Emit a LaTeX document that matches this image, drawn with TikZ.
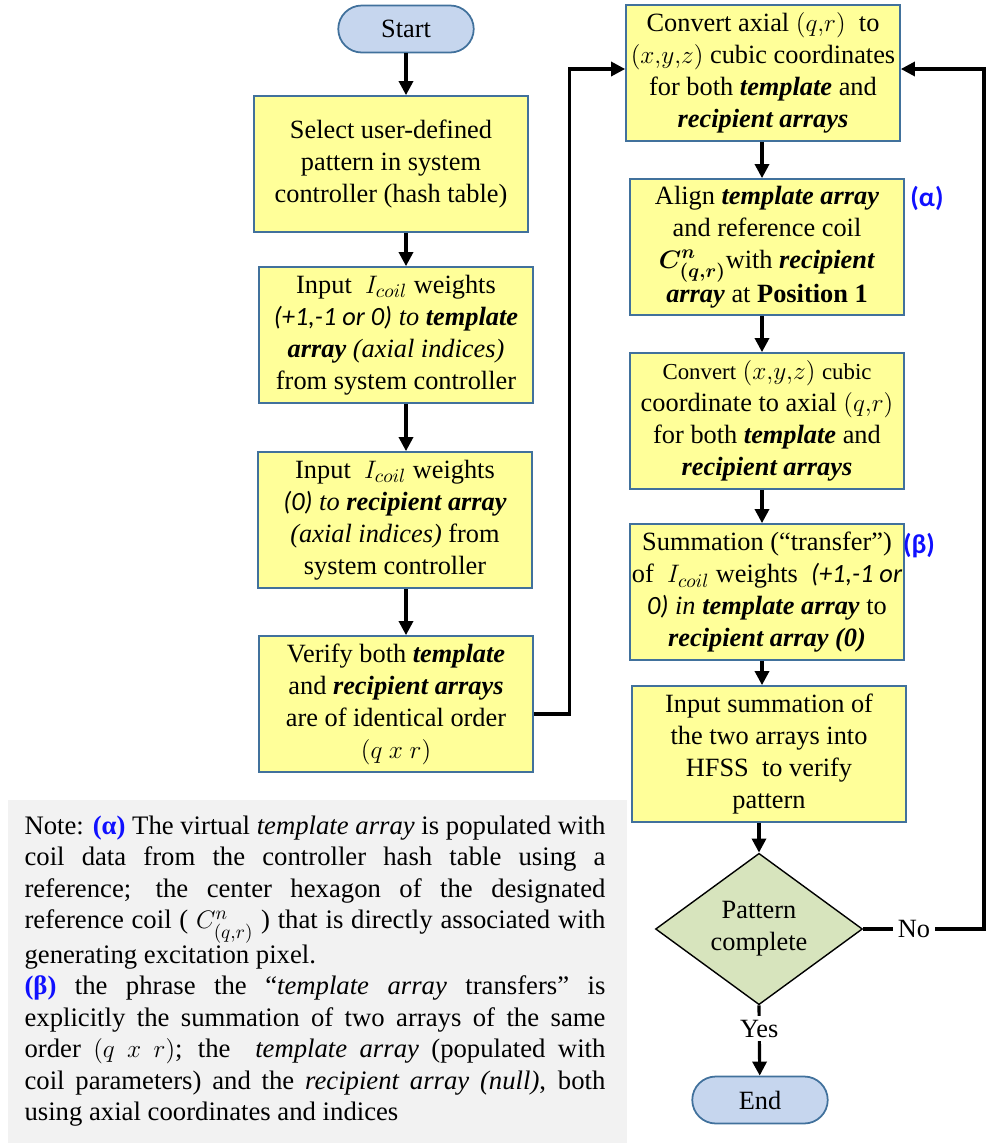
\documentclass[tikz,border=0pt]{standalone}
\usepackage{amsmath, amssymb, bm}
\usepackage{fontspec}
\setmainfont{Liberation Serif}
\newfontfamily\calib{Carlito}
\usetikzlibrary{shapes.geometric, shapes.misc, arrows.meta}
\definecolor{boxfill}{HTML}{FFFF99}
\definecolor{boxline}{HTML}{41719C}
\definecolor{pillfill}{HTML}{C6D6EE}
\definecolor{decfill}{HTML}{D7E4BD}
\definecolor{notefill}{HTML}{F2F2F2}
\definecolor{tagblue}{HTML}{1010FF}
\newcommand{\bi}[1]{\textbf{\textit{#1}}}
\newcommand{\ci}[1]{{\calib\itshape #1}}

\begin{document}
\begin{tikzpicture}[x=0.02cm, y=-0.02cm, >={Triangle[length=8pt,width=8pt]},
  font=\fontsize{15}{18.2}\selectfont,
  stepbox/.style={rectangle, draw=boxline, line width=1pt, fill=boxfill, minimum width=5.48cm, minimum height=2.72cm, align=center, inner sep=1pt},
  pill/.style={rounded rectangle, draw=boxline, line width=1pt, fill=pillfill, minimum width=2.78cm, minimum height=0.94cm, inner sep=1pt},
  arr/.style={->, line width=1.8pt},
  tag/.style={text=tagblue, font=\fontsize{15.5}{18}\selectfont\calib\bfseries}]
\useasboundingbox (0,0) rectangle (986,1143);

% note box
\fill[notefill] (8,800) rectangle (627,1143);
\node (note) at (315,971) [text width=11.62cm, align=justify, inner sep=0pt, font=\fontsize{15.2}{17.9}\selectfont] {\hyphenpenalty=10000 \exhyphenpenalty=10000 Note: {\color{tagblue}\textbf{(α)}} The virtual \textit{template array} is populated with\linebreak
coil data from the controller hash table using a\linebreak
reference; the center hexagon of the designated\linebreak
reference coil ( $C^{n}_{(q,r)}$ ) that is directly associated with\linebreak
generating excitation pixel.\\
{\color{tagblue}\textbf{(β)}} the phrase the ``\textit{template array} transfers'' is\linebreak
explicitly the summation of two arrays of the same\linebreak
order $(q\ x\ r)$; the \ \textit{template array} (populated with\linebreak
coil parameters) and the \textit{recipient array (null)}, both\linebreak
using axial coordinates and indices};

% left column
\node (s) at (406,29) [pill] {Start};
\node (b1) at (391,164) [stepbox] {Select user-defined\\ pattern in system\\ controller (hash table)};
\node (b2) at (396,335) [stepbox] {Input \ $I_{coil}$ weights\\ \ci{(+1,-1 or 0)} \textit{to} \bi{template}\\ \bi{array} \textit{(axial indices)}\\ from system controller};
\node (b3) at (395,520) [stepbox] {Input \ $I_{coil}$ weights\\ \ci{(0)} \textit{to} \bi{recipient array}\\ \textit{(axial indices)} from\\ system controller};
\node (b4) at (396,704) [stepbox] {Verify both \bi{template}\\ and \bi{recipient arrays}\\ are of identical order\\ $(q\ x\ r)$};
\coordinate (lc) at (406,0);

% right column
\node (r1) at (763,73) [stepbox] {Convert axial $(q{,}r)$ \ to\\ $(x{,}y{,}z)$ cubic coordinates\\ for both \bi{template} and\\ \bi{recipient arrays}};
\node (r2) at (767,247) [stepbox] {Align \bi{template array}\\ and reference coil\\ $\bm{C^{n}_{(q,r)}}$with \bi{recipient}\\ \bi{array} at \textbf{Position 1}};
\node (r3) at (767,421) [stepbox] {{\fontsize{13}{16}\selectfont Convert} $(x{,}y{,}z)$ {\fontsize{13}{16}\selectfont cubic}\\ coordinate to axial $(q{,}r)$\\ for both \bi{template} and\\ \bi{recipient arrays}};
\node (r4) at (767,592) [stepbox] {Summation (``transfer'')\\ \makebox[5.3cm]{of \ $I_{coil}$ weights \ \ci{(+1,-1 or}}\\ \ci{0)} \textit{in} \bi{template array} to\\ \bi{recipient array (0)}};
\node (r5) at (769,754) [stepbox] {Input summation of\\ the two arrays into\\ HFSS \ to verify\\ pattern};
\node (d) at (759,929) [diamond, draw=black, line width=0.8pt, fill=decfill, minimum width=4.14cm, minimum height=2.9cm, inner sep=0pt, align=center] {Pattern\\ complete};
\node (e) at (760,1100) [pill] {End};
\coordinate (rc) at (762,0);
\coordinate (rt) at (984,0);

\node at (927,198) [tag] {(α)};
\node at (919,546) [tag] {(β)};

\draw[arr] (s.south) -- (s.south |- b1.north);
\draw[arr] (b1.south -| lc) -- (b2.north -| lc);
\draw[arr] (b2.south -| lc) -- (b3.north -| lc);
\draw[arr] (b3.south -| lc) -- (b4.north -| lc);
\draw[arr] ([yshift=-0.2cm]b4.east) -- ++(36,0) |- ([yshift=0.08cm]r1.west);
\draw[arr] (r1.south -| rc) -- (r2.north -| rc);
\draw[arr] (r2.south -| rc) -- (r3.north -| rc);
\draw[arr] (r3.south -| rc) -- (r4.north -| rc);
\draw[arr] (r4.south -| rc) -- (r5.north -| rc);
\draw[arr] (r5.south -| d) -- (d.north);
\draw[arr] (d.east) -- node[pos=0.42, fill=white, inner sep=3pt] {No} (d.east -| rt) |- ([yshift=0.08cm]r1.east);
\draw[arr] (d.south) -- node[pos=0.33, fill=white, inner sep=2pt] {Yes} (e);
\end{tikzpicture}
\end{document}
